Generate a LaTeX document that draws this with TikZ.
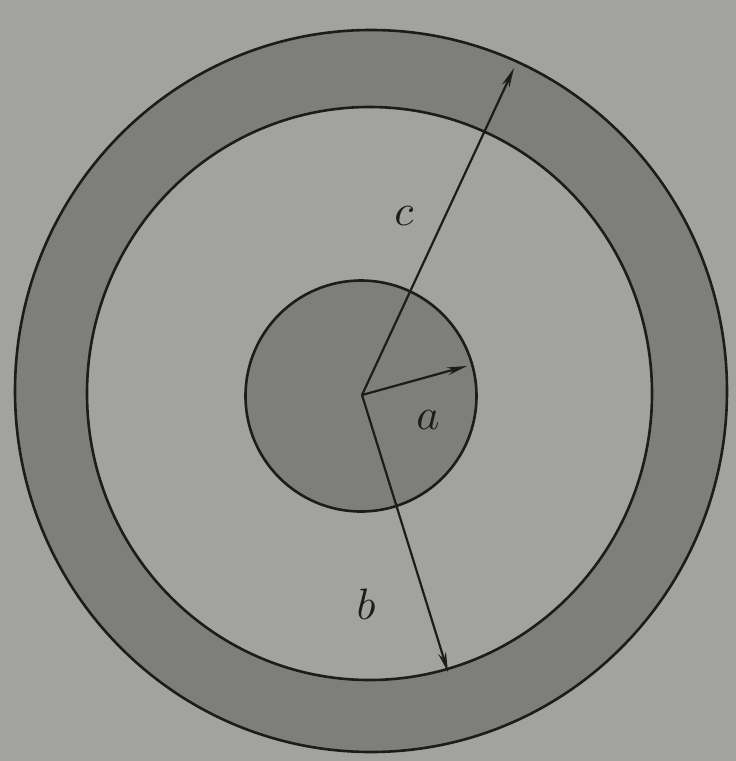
\documentclass[tikz,border=0pt]{standalone}
\usetikzlibrary{arrows.meta}
\definecolor{bg}{RGB}{162,162,158}
\definecolor{ringgray}{RGB}{126,126,122}
\definecolor{inkc}{RGB}{28,28,28}
\tikzset{
  rim/.style={draw=inkc, line width=2.6pt},
  radius arrow/.style={draw=inkc, line width=2.2pt, -{Stealth[length=20pt,width=8pt]}},
  lbl/.style={text=inkc, scale=4.4, inner sep=0pt}
}
\begin{document}
\begin{tikzpicture}[x=1pt,y=-1pt]
\fill[bg] (0,0) rectangle (736,761);
\useasboundingbox (0,0) rectangle (736,761);
% outer shell
\fill[ringgray] (371,391) ellipse [x radius=356, y radius=361];
\fill[bg] (369.5,393.5) ellipse [x radius=282.5, y radius=286.5];
\fill[ringgray] (361,396) circle [radius=115.5];
\draw[rim] (371,391) ellipse [x radius=356, y radius=361];
\draw[rim] (369.5,393.5) ellipse [x radius=282.5, y radius=286.5];
\draw[rim] (361,396) circle [radius=115.5];
% radii
\coordinate (O) at (362,395);
\coordinate (Atip) at (467,366);
\coordinate (Btip) at (448,672);
\coordinate (Ctip) at (514,68);
\draw[radius arrow] (O) -- (Atip);
\draw[radius arrow] (O) -- (Btip);
\draw[radius arrow] (O) -- (Ctip);
\node[lbl] (lc) at (404,216) {$c$};
\node[lbl] (la) at (428,420) {$a$};
\node[lbl] (lb) at (366,604) {$b$};
\end{tikzpicture}
\end{document}
